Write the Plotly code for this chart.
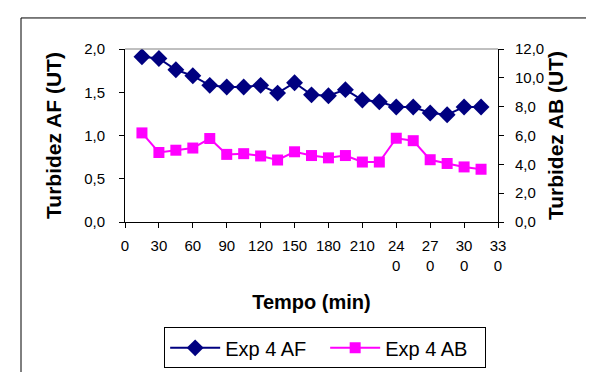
import plotly.graph_objects as go

tempo = [15, 30, 45, 60, 75, 90, 105, 120, 135, 150, 165, 180, 195, 210, 225, 240, 255, 270, 285, 300, 315]
exp4_af = [1.91, 1.89, 1.76, 1.69, 1.58, 1.56, 1.56, 1.58, 1.49, 1.61, 1.47, 1.46, 1.53, 1.41, 1.39, 1.33, 1.33, 1.26, 1.24, 1.33, 1.33]
exp4_ab = [6.18, 4.82, 4.98, 5.13, 5.79, 4.69, 4.74, 4.58, 4.30, 4.87, 4.61, 4.45, 4.61, 4.16, 4.16, 5.81, 5.64, 4.32, 4.06, 3.82, 3.66]

x_tickvals = [0, 30, 60, 90, 120, 150, 180, 210, 240, 270, 300, 330]
x_ticktext = ["0", "30", "60", "90", "120", "150", "180", "210", "24<br>0", "27<br>0", "30<br>0", "33<br>0"]
yl_tickvals = [0, 0.5, 1.0, 1.5, 2.0]
yr_tickvals = [0, 2, 4, 6, 8, 10, 12]

FONT = "Liberation Sans, Arial, sans-serif"

fig = go.Figure()
fig.add_trace(go.Scatter(
    x=tempo, y=exp4_af, name="Exp 4 AF", mode="lines+markers",
    line=dict(color="#000080", width=2),
    marker=dict(symbol="diamond", size=13, color="#000080"),
    yaxis="y"))
fig.add_trace(go.Scatter(
    x=tempo, y=exp4_ab, name="Exp 4 AB", mode="lines+markers",
    line=dict(color="#FF00FF", width=2),
    marker=dict(symbol="square", size=11, color="#FF00FF"),
    yaxis="y2"))

axis_common = dict(showgrid=False, zeroline=False, showline=True, linecolor="black", linewidth=1,
                   ticks="outside", ticklen=5, tickcolor="black", tickwidth=1,
                   tickfont=dict(family=FONT, size=15, color="black"))

fig.update_layout(
    width=594, height=372,
    margin=dict(l=117, r=104, t=41, b=148),
    paper_bgcolor="white", plot_bgcolor="white",
    separators=",.",
    font=dict(family=FONT, color="black"),
    showlegend=True,
    xaxis=dict(range=[0, 330], tickvals=x_tickvals, ticktext=x_ticktext,
               title=dict(text="<b>Tempo (min)</b>", font=dict(family=FONT, size=20), standoff=22),
               ticklabelstandoff=5, **axis_common),
    yaxis=dict(range=[0, 2], tickvals=yl_tickvals, tickformat=".1f",
               title=dict(text="<b>Turbidez AF (UT)</b>", font=dict(family=FONT, size=21), standoff=16),
               ticklabelstandoff=11, **axis_common),
    yaxis2=dict(range=[0, 12], tickvals=yr_tickvals, tickformat=".1f", overlaying="y", side="right",
                title=dict(text="<b>Turbidez AB (UT)</b>", font=dict(family=FONT, size=21), standoff=4),
                ticklabelstandoff=8, **axis_common),
    legend=dict(orientation="h", x=0.105, y=-0.609, xanchor="left", yanchor="top",
                bordercolor="black", borderwidth=1, bgcolor="white",
                font=dict(family=FONT, size=20), itemwidth=50,
                entrywidth=95, tracegroupgap=0),
    shapes=[
        dict(type="line", xref="paper", yref="paper", x0=0, x1=1, y0=1, y1=1,
             line=dict(color="#808080", width=1)),
        dict(type="rect", xref="paper", yref="paper", x0=-0.2788, x1=1.3, y0=-0.9, y1=1.1794,
             line=dict(color="black", width=1), layer="below"),
    ],
)

fig.write_html("out.html")
